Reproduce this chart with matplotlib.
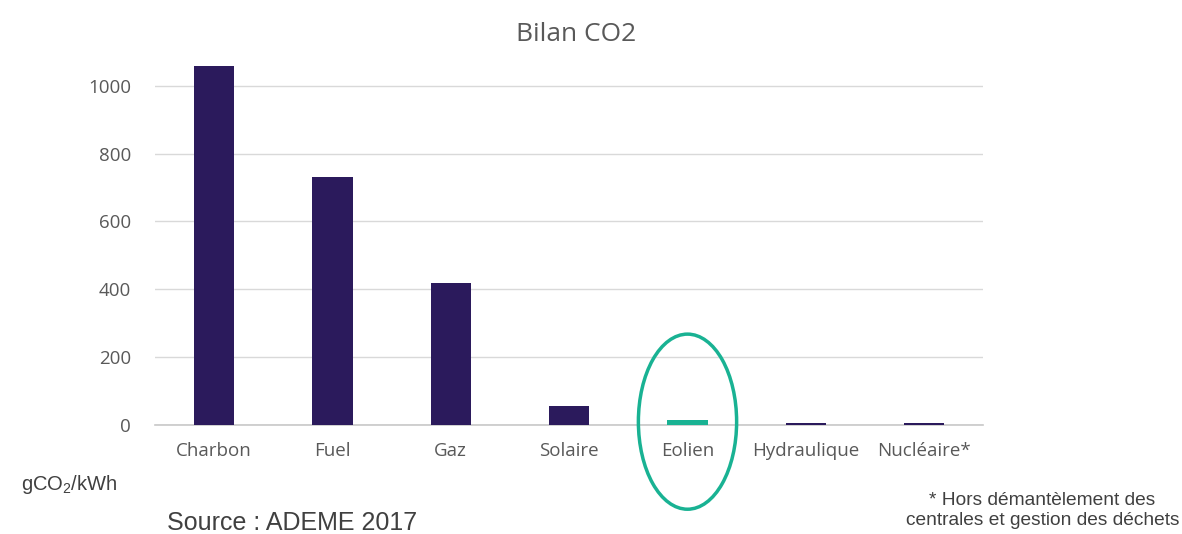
import numpy as np
import matplotlib.pyplot as plt
from matplotlib.patches import Ellipse

## données (gCO2/kWh, ADEME 2017)
categories = ['Charbon', 'Fuel', 'Gaz', 'Solaire', 'Eolien', 'Hydraulique', 'Nucléaire*']
values = [1058, 731, 418, 55, 14, 6, 6]
yticks = [0, 200, 400, 600, 800, 1000]

navy = '#2b1a5c'
teal = '#19b293'
grey = '#595959'

plt.rcParams['mathtext.fontset'] = 'custom'
plt.rcParams['mathtext.rm'] = 'Liberation Sans'
plt.rcParams['mathtext.it'] = 'Liberation Sans'

fig = plt.figure(figsize=(11.82, 5.34), dpi=100)
ax = fig.add_axes([0.131, 0.204, 0.701, 0.699])

x = np.arange(len(categories))
colors = [teal if c == 'Eolien' else navy for c in categories]
ax.bar(x, values, width=0.34, color=colors, zorder=3)

ax.set_xlim(-0.5, len(categories) - 0.5)
ax.set_ylim(0, 1100)
ax.set_yticks(yticks)
ax.set_xticks(x)
ax.set_xticklabels(categories, fontsize=13.5, color=grey, family='Open Sans')
ax.tick_params(axis='y', labelsize=13.5, labelcolor=grey, length=0, pad=17)
ax.tick_params(axis='x', length=0, pad=12)
for lbl in ax.get_yticklabels():
    lbl.set_family('Open Sans')
ax.grid(axis='y', color='#d9d9d9', linewidth=1, zorder=0)
ax.axhline(0, color='#c8c8c8', linewidth=1.2, zorder=2, clip_on=False)
for s in ax.spines.values():
    s.set_visible(False)

# cercle autour de l'éolien
ie = categories.index('Eolien')
ax.add_patch(Ellipse((ie, 10), 0.83, 516, fill=False, edgecolor=teal,
                     linewidth=2.5, clip_on=False, zorder=4))

fig.text(0.487, 0.935, 'Bilan CO2', ha='center', va='center', fontsize=19,
         color=grey, family='Open Sans')
fig.text(0.018, 0.092, 'gCO$_\\mathrm{2}$/kWh', ha='left', va='center', fontsize=14.5,
         color='#404040', family='Liberation Sans')
fig.text(0.141, 0.020, 'Source : ADEME 2017', ha='left', va='center', fontsize=18,
         color='#404040', family='Liberation Sans')
fig.text(0.882, 0.044, '* Hors démantèlement des\ncentrales et gestion des déchets',
         ha='center', va='center', fontsize=13.8, color='#404040',
         family='Liberation Sans', linespacing=1.3)

fig.savefig('out.png', dpi=100)
